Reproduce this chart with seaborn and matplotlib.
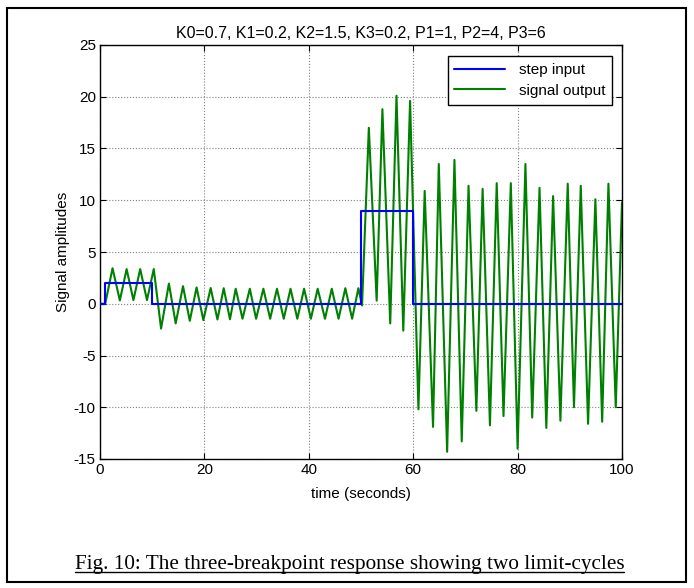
import numpy as np
import pandas as pd
import seaborn as sns
import matplotlib.pyplot as plt
from matplotlib.patches import Rectangle
from matplotlib.lines import Line2D

# step input breakpoints (steps-post)
step_t = [0, 1, 10, 50, 60, 100]
step_u = [0, 2, 0, 9, 0, 0]

# signal output, peaks and troughs
out_t = [0, 1.0, 2.4, 3.8, 5.1, 6.4, 7.7, 9.0, 10.3, 11.7, 13.2, 14.5, 15.9, 17.2,
         18.5, 19.8, 21.2, 22.5, 23.7, 24.9, 26.0, 27.3, 28.7, 29.9, 31.3, 32.6,
         33.9, 35.2, 36.5, 37.8, 39.1, 40.4, 41.7, 43.1, 44.4, 45.7, 47.0, 48.3,
         49.5, 50.2, 51.5, 53.0, 54.1, 55.6, 56.8, 58.1, 59.4, 61.0, 62.2, 63.8,
         64.9, 66.5, 67.9, 69.3, 70.6, 72.1, 73.3, 74.7, 76.0, 77.3, 78.7, 80.0,
         81.5, 82.8, 84.2, 85.5, 86.8, 88.2, 89.6, 90.8, 92.1, 93.5, 94.9, 96.2,
         97.4, 98.8, 100.0]
out_y = [0, 0, 3.43, 0.32, 3.35, 0.35, 3.35, 0.35, 3.35, -2.4, 1.95, -1.9, 1.7, -1.65,
         1.58, -1.58, 1.52, -1.52, 1.5, -1.5, 1.45, -1.45, 1.45, -1.45, 1.45, -1.45,
         1.45, -1.45, 1.45, -1.45, 1.45, -1.45, 1.45, -1.45, 1.45, -1.45, 1.5, -1.45,
         1.5, -0.16, 17.0, 0.3, 18.8, -1.9, 20.1, -2.6, 19.6, -10.2, 10.9, -11.9,
         13.5, -14.3, 13.9, -13.3, 11.4, -10.35, 11.1, -11.75, 11.65, -10.85, 11.65, -14.0,
         13.5, -11.0, 11.2, -12.0, 10.4, -11.3, 11.6, -10.0, 11.4, -11.6, 10.1, -11.4,
         11.6, -10.0, 9.8]

title = "K0=0.7, K1=0.2, K2=1.5, K3=0.2, P1=1, P2=4, P3=6"
caption = "Fig. 10: The three-breakpoint response showing two limit-cycles"

sns.set_style("ticks")
plt.rcParams['font.family'] = ['Liberation Sans', 'DejaVu Sans']
plt.rcParams['axes.unicode_minus'] = False
plt.rcParams['text.color'] = 'black'
plt.rcParams['axes.labelcolor'] = 'black'

fig = plt.figure(figsize=(6.94, 5.88), dpi=100)
ax = fig.add_axes([100 / 694, 1 - 459 / 588, 522 / 694, 414 / 588])

step_df = pd.DataFrame({'time': step_t, 'amp': step_u})
out_df = pd.DataFrame({'time': out_t, 'amp': out_y})

sns.lineplot(data=step_df, x='time', y='amp', ax=ax, color='#0000ff', lw=1.5,
             drawstyle='steps-post', label='step input', zorder=3)
sns.lineplot(data=out_df, x='time', y='amp', ax=ax, color='#008000', lw=1.5,
             label='signal output', zorder=2)

ax.set_xlim(0, 100)
ax.set_ylim(-15, 25)
ax.set_xticks(np.arange(0, 101, 20))
ax.set_yticks(np.arange(-15, 26, 5))
ax.grid(True, linestyle=':', color='#808080', linewidth=0.8)
ax.tick_params(direction='in', top=True, right=True, length=4, labelsize=11,
               colors='black', pad=3)
for s in ax.spines.values():
    s.set_color('black')
    s.set_linewidth(1)

ax.set_xlabel('time (seconds)', fontsize=11, labelpad=7)
ax.set_ylabel('Signal amplitudes', fontsize=11, labelpad=3)
ax.set_title(title, fontsize=11.5, pad=5)

leg = ax.legend(loc='upper right', bbox_to_anchor=(1 - 10 / 522, 1 - 11 / 414),
                borderaxespad=0, frameon=True, fancybox=False, framealpha=1,
                edgecolor='black', fontsize=11, handlelength=3.3,
                borderpad=0.45, labelspacing=0.45, handletextpad=0.9)
leg.get_frame().set_linewidth(1)

# outer frame
fig.add_artist(Rectangle((7 / 694, 6 / 588), 679 / 694, 574 / 588, transform=fig.transFigure,
                         fill=False, edgecolor='black', linewidth=1.5))

cap = fig.text(349.5 / 694, 1 - 564 / 588, caption, ha='center', va='center',
               fontsize=15.3, family=['Liberation Serif', 'DejaVu Serif'])
fig.canvas.draw()
bb = cap.get_window_extent().transformed(fig.transFigure.inverted())
fig.add_artist(Line2D([bb.x0, bb.x1], [bb.y0 + 0.003, bb.y0 + 0.003],
                      transform=fig.transFigure, color='black', linewidth=1))

fig.savefig('out.png', dpi=100)
